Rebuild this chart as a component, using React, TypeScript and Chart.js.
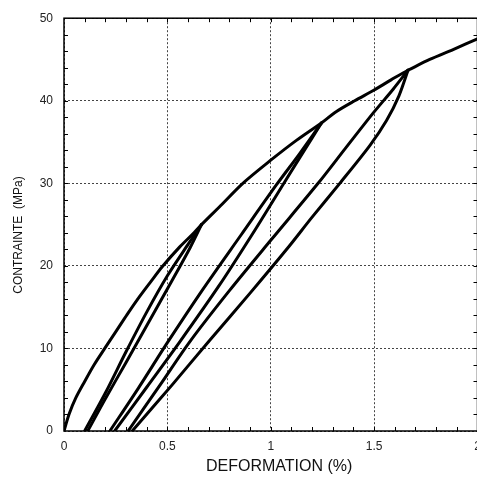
import React, { useEffect, useRef } from "react";
import { Chart, registerables } from "chart.js";

Chart.register(...registerables);

type Pt = [number, number];

// Strain (%) , stress (MPa)
const initialLoading: Pt[] = [
  [0, 0], [0.024, 2], [0.057, 4], [0.1, 6], [0.145, 8], [0.197, 10], [0.25, 12],
  [0.305, 14.1], [0.366, 16.3], [0.42, 18.1], [0.475, 19.9], [0.56, 22.3], [0.624, 23.9], [0.665, 25],
];
const unload1: Pt[] = [
  [0.665, 25], [0.61, 22.2], [0.52, 18.1], [0.41, 13.2], [0.3, 8.3], [0.2, 3.9], [0.115, 0],
];
const reload1: Pt[] = [
  [0.1, 0], [0.2, 4.6], [0.3, 9.6], [0.4, 14.4], [0.5, 18.8], [0.6, 22.6], [0.665, 25],
];
const loading2: Pt[] = [
  [0.665, 25], [0.75, 27.1], [0.865, 30], [1.0, 32.8], [1.124, 35.2], [1.245, 37.3],
];
const unload2: Pt[] = [
  [1.245, 37.3], [1.16, 33.9], [1.068, 30.2], [0.92, 24.2], [0.75, 17.6], [0.56, 10.8], [0.4, 5.3], [0.245, 0],
];
const reload2: Pt[] = [
  [0.222, 0], [0.36, 5.2], [0.5, 10.7], [0.67, 17.1], [0.858, 23.8], [1.027, 29.8], [1.14, 33.6], [1.245, 37.3],
];
const loading3: Pt[] = [
  [1.245, 37.3], [1.318, 38.7], [1.406, 40], [1.5, 41.3], [1.58, 42.5], [1.664, 43.7],
];
const unload3: Pt[] = [
  [1.664, 43.7], [1.62, 40.6], [1.56, 37.6], [1.48, 34.6], [1.334, 30], [1.2, 25.9], [1.08, 22.1],
  [0.9, 16.7], [0.705, 11.0], [0.52, 5.5], [0.33, 0],
];
const reload3: Pt[] = [
  [0.31, 0], [0.46, 5.4], [0.608, 10.8], [0.8, 17], [1.0, 23.1], [1.229, 30], [1.36, 34.2],
  [1.495, 38.5], [1.592, 41.4], [1.664, 43.7],
];
const loading4: Pt[] = [
  [1.664, 43.7], [1.769, 45.0], [1.882, 46.2], [2.0, 47.5],
];

const segments: Pt[][] = [
  initialLoading, unload1, reload1, loading2, unload2, reload2, loading3, unload3, reload3, loading4,
];

const xTickLabels = ["0", "0.5", "1", "1.5", "2"];
const yTickLabels = ["0", "10", "20", "30", "40", "50"];
const xTitle = "DEFORMATION (%)";
const yTitle = "CONTRAINTE  (MPa)";

const FONT = "'Liberation Sans', Arial, sans-serif";

const framePlugin = {
  id: "frameAndMinor",
  afterDraw(chart: any) {
    const { ctx, chartArea: a, scales } = chart;
    const xs = scales.x;
    const ys = scales.y;
    ctx.save();
    ctx.strokeStyle = "#000";
    ctx.lineWidth = 1;
    ctx.beginPath();
    for (let i = 1; i < 20; i++) {
      const px = Math.round(xs.getPixelForValue(i / 10)) + 0.5;
      ctx.moveTo(px, a.bottom);
      ctx.lineTo(px, a.bottom - 4);
      ctx.moveTo(px, a.top);
      ctx.lineTo(px, a.top + 4);
    }
    for (let i = 1; i < 25; i++) {
      const py = Math.round(ys.getPixelForValue(i * 2)) + 0.5;
      ctx.moveTo(a.left, py);
      ctx.lineTo(a.left + 4, py);
      ctx.moveTo(a.right, py);
      ctx.lineTo(a.right - 4, py);
    }
    ctx.stroke();
    ctx.lineWidth = 1.5;
    ctx.strokeRect(a.left, a.top, a.right - a.left, a.bottom - a.top);

    ctx.fillStyle = "#111";
    ctx.font = `16px ${FONT}`;
    ctx.textAlign = "left";
    ctx.textBaseline = "alphabetic";
    ctx.fillText(xTitle, 206, 471);

    ctx.translate(19, 235);
    ctx.rotate(-Math.PI / 2);
    ctx.font = `12px ${FONT}`;
    ctx.textAlign = "center";
    ctx.textBaseline = "middle";
    ctx.fillText(yTitle, 0, 0);
    ctx.restore();
  },
};

export default function App() {
  const ref = useRef<HTMLCanvasElement | null>(null);

  useEffect(() => {
    if (!ref.current) return;
    const chart = new Chart(ref.current, {
      type: "scatter",
      data: {
        datasets: segments.map((seg) => ({
          data: seg.map(([x, y]) => ({ x, y })),
          showLine: true,
          borderColor: "#000",
          backgroundColor: "#000",
          borderWidth: 3,
          pointRadius: 0,
          tension: 0.3,
          fill: false,
          borderJoinStyle: "round" as const,
          borderCapStyle: "round" as const,
        })),
      },
      options: {
        responsive: false,
        maintainAspectRatio: false,
        animation: false,
        layout: { padding: { top: 10, right: 22.5, left: 0, bottom: 0 } },
        plugins: { legend: { display: false }, tooltip: { enabled: false } },
        scales: {
          x: {
            type: "linear",
            min: 0,
            max: 2,
            afterFit: (s: any) => {
              s.height = 49;
            },
            ticks: {
              stepSize: 0.5,
              padding: 8,
              color: "#222",
              font: { family: FONT, size: 12 },
              callback: (v: any, i: number) => xTickLabels[i] ?? String(v),
            },
            grid: { color: "#444", lineWidth: 1, drawTicks: false },
            border: { display: false, dash: [2, 2] },
          },
          y: {
            type: "linear",
            min: 0,
            max: 50,
            afterFit: (s: any) => {
              s.width = 64;
            },
            ticks: {
              stepSize: 10,
              padding: 11,
              color: "#222",
              font: { family: FONT, size: 12 },
              callback: (v: any, i: number) => yTickLabels[i] ?? String(v),
            },
            grid: { color: "#444", lineWidth: 1, drawTicks: false },
            border: { display: false, dash: [2, 2] },
          },
        },
      },
      plugins: [framePlugin],
    });
    return () => chart.destroy();
  }, []);

  return (
    <div
      style={{
        position: "fixed",
        left: 0,
        top: 0,
        width: 477,
        height: 480,
        overflow: "hidden",
        background: "#fff",
      }}
    >
      <canvas ref={ref} width={500} height={480} style={{ display: "block" }} />
    </div>
  );
}
